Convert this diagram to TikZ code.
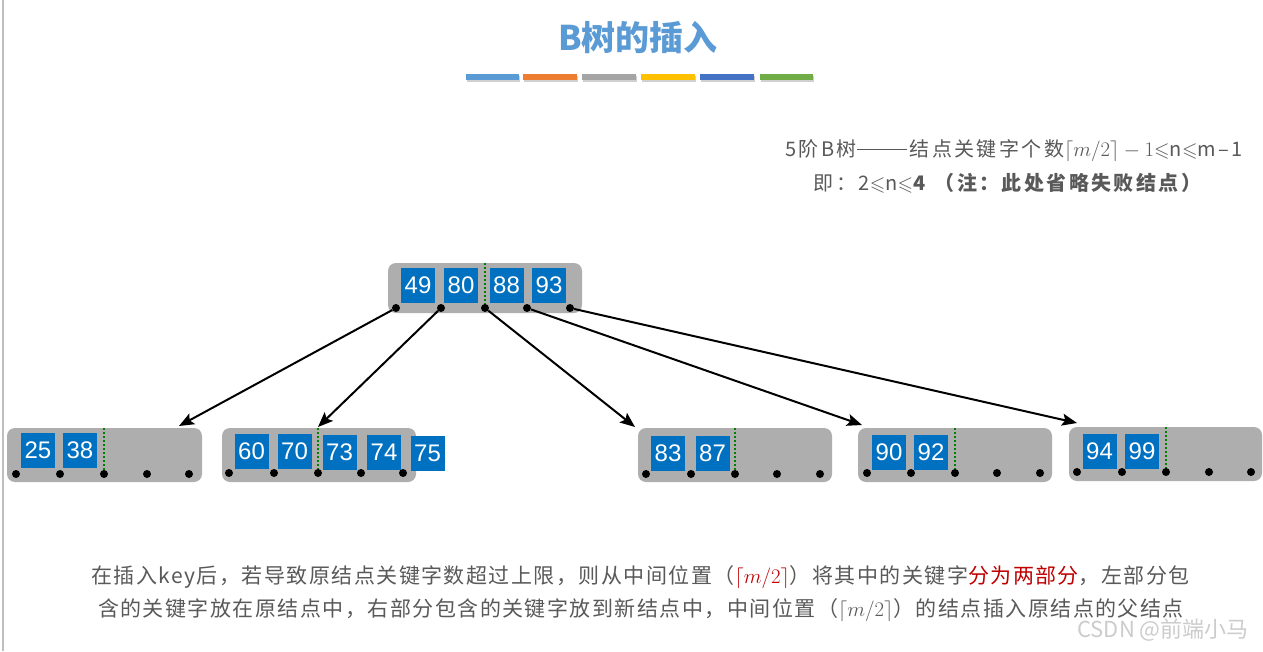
\documentclass[tikz,border=0pt]{standalone}
\usepackage{fontspec}
\usepackage{amssymb}
\setmainfont{Liberation Sans}
\newfontfamily\cjk[LetterSpace=7]{Noto Sans CJK SC}
\newfontfamily\cjkr[LetterSpace=12]{Noto Sans CJK SC}
\newfontfamily\cjkt{Noto Sans CJK SC}
\usetikzlibrary{arrows.meta}
\definecolor{keyblue}{RGB}{0,112,192}
\definecolor{nodegray}{RGB}{174,174,174}
\definecolor{txtgray}{RGB}{89,89,89}
\definecolor{darkred}{RGB}{192,0,0}
\definecolor{titleblue}{RGB}{91,155,213}
\definecolor{sepgreen}{RGB}{0,128,0}
\definecolor{bar1}{RGB}{91,155,213}
\definecolor{bar2}{RGB}{237,125,49}
\definecolor{bar3}{RGB}{165,165,165}
\definecolor{bar4}{RGB}{255,192,0}
\definecolor{bar5}{RGB}{68,114,196}
\definecolor{bar6}{RGB}{112,173,71}
\newcommand{\longdash}{\rule[0.33em]{50pt}{1.2pt}\hspace{3pt}}
\tikzset{
  box/.style={fill=nodegray, rounded corners=8pt, inner sep=0pt, minimum height=54pt},
  key/.style={fill=keyblue, text=white, minimum width=34pt, minimum height=35pt, inner sep=0pt, font=\fontsize{24}{24}\selectfont},
  dot/.style={circle, fill=black, minimum size=8pt, inner sep=0pt},
  sep/.style={sepgreen, line width=2pt, dash pattern=on 2pt off 2pt},
  arr/.style={line width=2pt, -{Stealth[length=15pt,width=12pt,inset=3pt]}},
}
\begin{document}
\begin{tikzpicture}[x=1pt,y=-1pt]
\useasboundingbox[fill=white] (0,0) rectangle (1263,651);
\draw[line width=1.5pt, black!25] (3,0) -- (3,651);

% title
\node[font=\cjkt\bfseries\fontsize{34}{34}\selectfont, text=titleblue] (title) at (638,38) {B树的插入};
\foreach \a/\b/\c [count=\i] in {466/519/bar1,523/577/bar2,582/636/bar3,641/695/bar4,700/754/bar5,760/813/bar6}{
  \fill[black!30, opacity=.6] (\a+1,75.5) rectangle (\b+1,81.5);
  \fill[\c] (\a,74) rectangle (\b,80);
}

% top-right notes
\node[font=\cjkr\fontsize{20}{20}\selectfont, text=txtgray, inner sep=0pt] (n1) at (1014,151)
  {5阶B树\longdash 结点关键字个数$\lceil m/2\rceil-1$${\leqslant}$n${\leqslant}$m–1};
\node[font=\cjkr\fontsize{20}{20}\selectfont, text=txtgray, inner sep=0pt] (n2) at (1007.5,183)
  {即：2${\leqslant}$n${\leqslant}$\textbf{4} \bfseries （注：此处省略失败结点）};

% root
\node[box, minimum width=194pt, minimum height=50pt] (R) at (485,288) {};
\node[key] (k49) at (418,285) {49};
\node[key] (k80) at (461,285) {80};
\node[key] (k88) at (506.5,285) {88};
\node[key] (k93) at (549,285) {93};
\coordinate (r3top) at (485,263);
\coordinate (r3bot) at (485,306);
\draw[sep] (r3top) -- (r3bot);
\node[dot] (r1) at (396,308) {};
\node[dot] (r2) at (441,308) {};
\node[dot] (r3) at (485,308) {};
\node[dot] (r4) at (527,308) {};
\node[dot] (r5) at (570,308) {};

% leaf 1
\node[box, minimum width=195pt] (L1) at (104.5,455) {};
\node[key] (k25) at (38,450.5) {25};
\node[key] (k38) at (80,450.5) {38};
\coordinate (s1a) at (104,428);
\coordinate (s1b) at (104,472);
\draw[sep] (s1a) -- (s1b);
\foreach \x [count=\i] in {16,60,104,147,189}{ \node[dot] (a\i) at (\x,474) {}; }

% leaf 2
\node[box, minimum width=194pt] (L2) at (319,455) {};
\node[key] (k60) at (251.5,451) {60};
\node[key] (k70) at (294.5,451) {70};
\node[key] (k73) at (339.5,452) {73};
\node[key] (k74) at (384,452) {74};
\node[key] (k75) at (427.5,453.5) {75};
\coordinate (s2a) at (317.5,428);
\coordinate (s2b) at (317.5,471);
\draw[sep] (s2a) -- (s2b);
\foreach \x [count=\i] in {229,274,318,361,403}{ \node[dot] (b\i) at (\x,473) {}; }

% leaf 3
\node[box, minimum width=194pt] (L3) at (735,455) {};
\node[key] (k83) at (668,453) {83};
\node[key] (k87) at (712.5,453) {87};
\coordinate (s3a) at (734.5,428);
\coordinate (s3b) at (734.5,472);
\draw[sep] (s3a) -- (s3b);
\foreach \x [count=\i] in {646,691,735,777,820}{ \node[dot] (c\i) at (\x,474) {}; }

% leaf 4
\node[box, minimum width=194pt] (L4) at (955,455) {};
\node[key] (k90) at (889,452) {90};
\node[key] (k92) at (931,452) {92};
\coordinate (s4a) at (954.5,428);
\coordinate (s4b) at (954.5,471);
\draw[sep] (s4a) -- (s4b);
\foreach \x [count=\i] in {867,911,955,997,1040}{ \node[dot] (d\i) at (\x,473) {}; }

% leaf 5
\node[box, minimum width=193pt] (L5) at (1165.5,454) {};
\node[key] (k94) at (1099.5,451) {94};
\node[key] (k99) at (1142,451) {99};
\coordinate (s5a) at (1165.5,427);
\coordinate (s5b) at (1165.5,470);
\draw[sep] (s5a) -- (s5b);
\foreach \x [count=\i] in {1077,1122,1166,1209,1251}{ \node[dot] (e\i) at (\x,472) {}; }

% arrows
\coordinate (t1) at (179,426);
\coordinate (t2) at (318,427);
\coordinate (t3) at (635,427);
\coordinate (t4) at (862,425);
\coordinate (t5) at (1077,423);
\draw[arr] (r1) -- (t1);
\draw[arr] (r2) -- (t2);
\draw[arr] (r3) -- (t3);
\draw[arr] (r4) -- (t4);
\draw[arr] (r5) -- (t5);

% bottom text
\node[font=\cjk\fontsize{21}{21}\selectfont, text=txtgray, inner sep=0pt] (b1) at (640.5,577)
  {在插入key后，若导致原结点关键字数超过上限，则从中间位置（{\color{darkred}$\lceil m/2\rceil$}）将其中的关键字{\color{darkred}分为两部分}，左部分包};
\node[font=\cjk\fontsize{21}{21}\selectfont, text=txtgray, inner sep=0pt] (b2) at (641,610)
  {含的关键字放在原结点中，右部分包含的关键字放到新结点中，中间位置（$\lceil m/2\rceil$）的结点插入原结点的父结点};

% watermark
\node[font=\cjkt\fontsize{22}{22}\selectfont, text=black!20, inner sep=0pt] (wm) at (1163,630) {CSDN @前端小马};
\end{tikzpicture}
\end{document}
